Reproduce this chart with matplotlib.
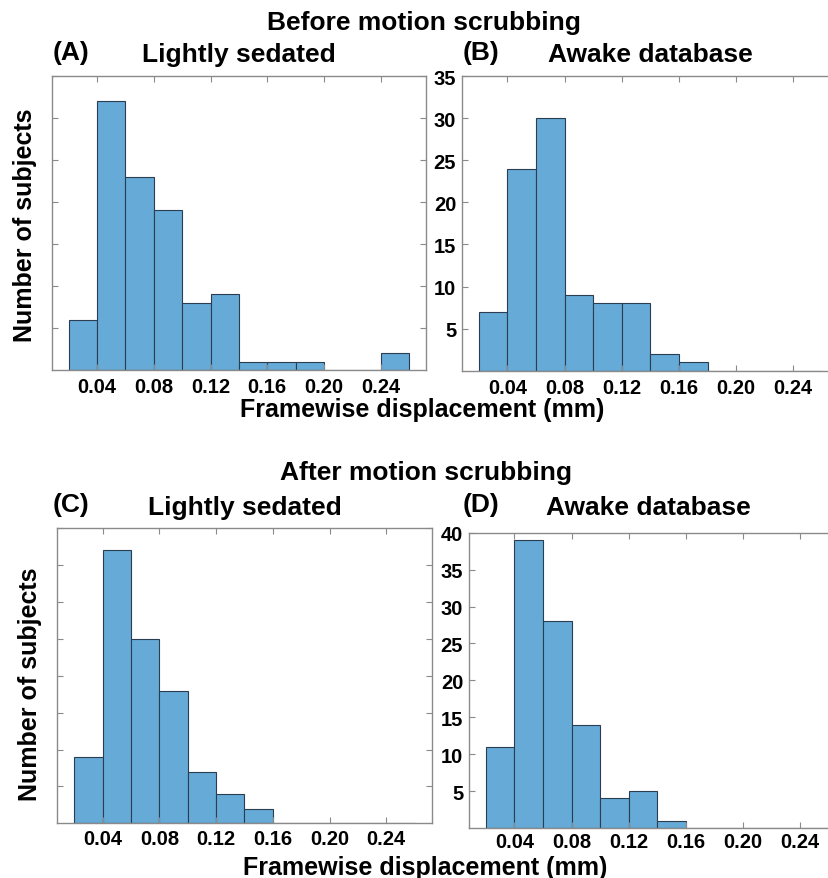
import matplotlib
matplotlib.use("Agg")
import matplotlib.pyplot as plt

plt.rcParams['font.family'] = ['Liberation Sans', 'DejaVu Sans']
plt.rcParams['font.weight'] = 'bold'

# bin edges of the histograms (mm)
bin_edges = [0.02, 0.04, 0.06, 0.08, 0.10, 0.12, 0.14, 0.16, 0.18, 0.20, 0.22, 0.24, 0.26]

# counts per bin
before_sedated = [6, 32, 23, 19, 8, 9, 1, 1, 1, 0, 0, 2]
before_awake = [7, 24, 30, 9, 8, 8, 2, 1, 0, 0, 0, 0]
after_sedated = [9, 37, 25, 18, 7, 4, 2, 0, 0, 0, 0, 0]
after_awake = [11, 39, 28, 14, 4, 5, 1, 0, 0, 0, 0, 0]

x_ticks = [0.04, 0.08, 0.12, 0.16, 0.20, 0.24]
x_ticklabels = ['0.04', '0.08', '0.12', '0.16', '0.20', '0.24']

FACE = '#66aad7'
EDGE = '#2b3d50'
SPINE = '#8a8a8a'


def draw_hist(ax, counts, ymax, show_ylabels, xpad=5):
    starts = bin_edges[:-1]
    widths = [b - a for a, b in zip(bin_edges[:-1], bin_edges[1:])]
    ax.bar(starts, counts, width=widths, align='edge', color=FACE,
           edgecolor=EDGE, linewidth=0.8)
    ax.set_xlim(0.008, 0.272)
    ax.set_ylim(0, ymax)
    ax.set_xticks(x_ticks)
    ax.set_xticklabels(x_ticklabels, fontsize=14.5, fontweight='bold')
    yt = list(range(5, ymax + 1, 5))
    ax.set_yticks(yt)
    if show_ylabels:
        ax.set_yticklabels([str(v) for v in yt], fontsize=14.5, fontweight='bold')
    else:
        ax.set_yticklabels([])
    ax.tick_params(direction='in', length=4, width=0.8, color=SPINE,
                   top=True, right=True)
    ax.tick_params(axis='x', pad=xpad)
    ax.tick_params(axis='y', pad=4)
    for s in ax.spines.values():
        s.set_color(SPINE)
        s.set_linewidth(1.0)


fig = plt.figure(figsize=(8.29, 8.79), dpi=100)

axA = fig.add_axes([0.0624, 0.5779, 0.4515, 0.3345])
axB = fig.add_axes([0.5570, 0.5771, 0.4550, 0.3353])
axC = fig.add_axes([0.0691, 0.0622, 0.4516, 0.3356])
axD = fig.add_axes([0.5654, 0.0569, 0.4550, 0.3359])

draw_hist(axA, before_sedated, 35, False)
draw_hist(axB, before_awake, 35, True)
draw_hist(axC, after_sedated, 40, False, xpad=4)
draw_hist(axD, after_awake, 40, True, xpad=3)

# titles and labels
fig.text(0.511, 0.974, 'Before motion scrubbing', ha='center', va='center', fontsize=19, fontweight='bold')
fig.text(0.063, 0.940, '(A)', ha='left', va='center', fontsize=19, fontweight='bold')
fig.text(0.288, 0.937, 'Lightly sedated', ha='center', va='center', fontsize=19, fontweight='bold')
fig.text(0.558, 0.940, '(B)', ha='left', va='center', fontsize=19, fontweight='bold')
fig.text(0.784, 0.937, 'Awake database', ha='center', va='center', fontsize=19, fontweight='bold')
fig.text(0.509, 0.534, 'Framewise displacement (mm)', ha='center', va='center', fontsize=18, fontweight='bold')
fig.text(0.030, 0.744, 'Number of subjects', ha='center', va='center', rotation=90, fontsize=18, fontweight='bold')

fig.text(0.514, 0.462, 'After motion scrubbing', ha='center', va='center', fontsize=19, fontweight='bold')
fig.text(0.063, 0.4255, '(C)', ha='left', va='center', fontsize=19, fontweight='bold')
fig.text(0.2955, 0.4225, 'Lightly sedated', ha='center', va='center', fontsize=19, fontweight='bold')
fig.text(0.558, 0.4255, '(D)', ha='left', va='center', fontsize=19, fontweight='bold')
fig.text(0.782, 0.4225, 'Awake database', ha='center', va='center', fontsize=19, fontweight='bold')
fig.text(0.513, 0.012, 'Framewise displacement (mm)', ha='center', va='center', fontsize=18, fontweight='bold')
fig.text(0.036, 0.221, 'Number of subjects', ha='center', va='center', rotation=90, fontsize=18, fontweight='bold')

fig.savefig('out.png', dpi=100)
